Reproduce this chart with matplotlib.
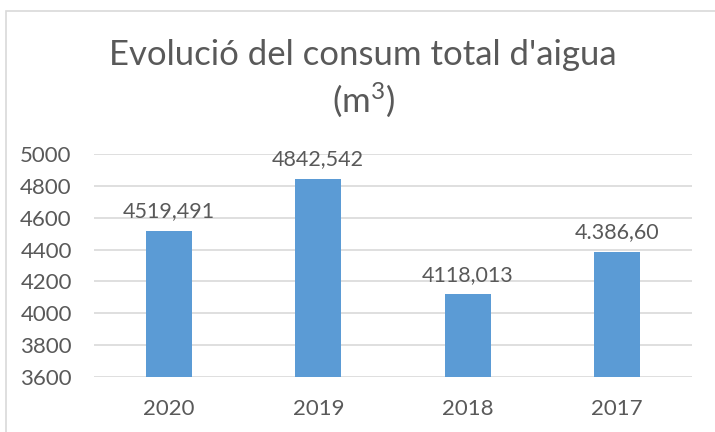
import matplotlib.pyplot as plt
from matplotlib.patches import Rectangle

years = ["2020", "2019", "2018", "2017"]
consum = [4519.491, 4842.542, 4118.013, 4386.60]
labels = ["4519,491", "4842,542", "4118,013", "4.386,60"]
yticks = [3600, 3800, 4000, 4200, 4400, 4600, 4800, 5000]

txt = '#595959'
plt.rcParams['font.family'] = ['Lato', 'DejaVu Sans']
plt.rcParams['mathtext.fontset'] = 'custom'
plt.rcParams['mathtext.rm'] = 'Lato'

fig = plt.figure(figsize=(7.15, 4.32), dpi=100)
# chart border (only left and top visible in the reference)
fig.patches.append(Rectangle((6 / 715, -0.1), 1.2, 1.1 - 11 / 432,
                             transform=fig.transFigure, fill=False,
                             edgecolor='#D9D9D9', linewidth=1.2))

ax = fig.add_axes([94 / 715, 1 - 377 / 432, 598 / 715, 223 / 432])
x = range(len(years))
bars = ax.bar(x, consum, width=0.31, color='#5B9BD5', zorder=3)
for b, lab in zip(bars, labels):
    ax.text(b.get_x() + b.get_width() / 2, b.get_height() + 60, lab,
            ha='center', va='bottom', fontsize=15.5, color=txt)

ax.set_ylim(3600, 5000)
ax.set_xlim(-0.5, 3.5)
ax.set_yticks(yticks)
ax.set_xticks(list(x))
ax.set_xticklabels(years)
ax.tick_params(length=0, labelsize=16, colors=txt)
ax.tick_params(axis='y', pad=16)
ax.tick_params(axis='x', pad=16)
ax.grid(axis='y', color='#D9D9D9', linewidth=1.2, zorder=0)
for s in ax.spines.values():
    s.set_visible(False)

fig.text(363 / 715, 1 - 55 / 432, "Evolució del consum total d'aigua",
         ha='center', va='center', fontsize=25, color=txt)
fig.text(363 / 715, 1 - 100 / 432, r"(m$\mathrm{^{3}}$)",
         ha='center', va='center', fontsize=25, color=txt)

fig.savefig('out.png', dpi=100)
